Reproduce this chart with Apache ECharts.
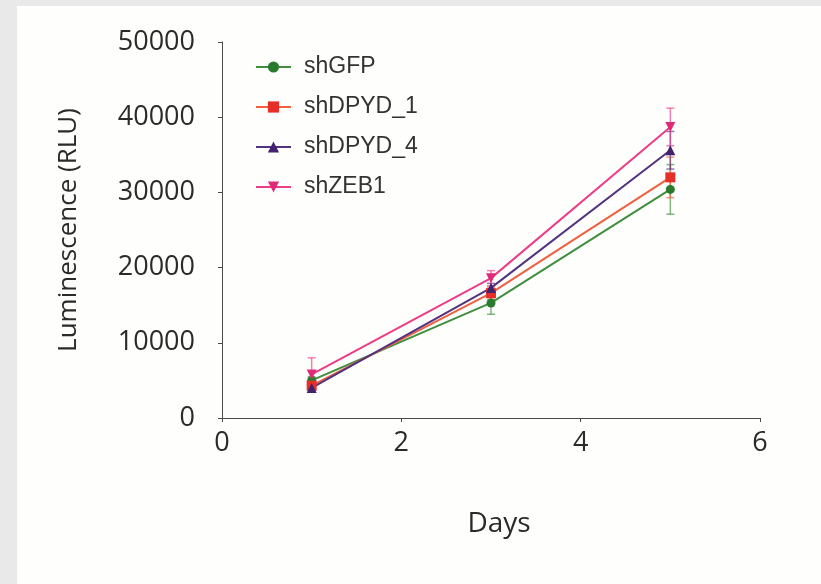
<!DOCTYPE html>
<html>
<head>
<meta charset="utf-8">
<script src="https://cdn.jsdelivr.net/npm/echarts@6/dist/echarts.min.js"></script>
<style>
  html, body { margin: 0; padding: 0; background: #e9e9e9; }
  #paper { position: absolute; left: 17px; top: 6px; width: 804px; height: 578px; background: #fefefd; }
  #chart { position: absolute; left: 0; top: 0; width: 821px; height: 584px; }
</style>
</head>
<body>
<div id="paper"></div>
<div id="chart"></div>
<script>
// days measured
const days = [1, 3, 5]
const yTicks = [0, 10000, 20000, 30000, 40000, 50000]

// mean luminescence per group
const shGFP = [5000, 15300, 30400]
const shDPYD_1 = [4300, 16600, 32000]
const shDPYD_4 = [4000, 17300, 35600]
const shZEB1 = [5800, 18600, 38700]

// error (+/-) per group
const errGFP = [500, 1500, 3300]
const errDPYD_1 = [400, 800, 2700]
const errDPYD_4 = [400, 600, 2500]
const errZEB1 = [2200, 1000, 2500]

const groups = [
  { name: 'shGFP', mean: shGFP, err: errGFP, line: '#3f8f3f', mark: '#2a7a2e', symbol: 'circle', size: 9, rot: 0 },
  { name: 'shDPYD_1', mean: shDPYD_1, err: errDPYD_1, line: '#f0603f', mark: '#e5302a', symbol: 'rect', size: 10, rot: 0 },
  { name: 'shDPYD_4', mean: shDPYD_4, err: errDPYD_4, line: '#52337f', mark: '#40226e', symbol: 'triangle', size: 10, rot: 0 },
  { name: 'shZEB1', mean: shZEB1, err: errZEB1, line: '#ec3d85', mark: '#e02a78', symbol: 'triangle', size: 10, rot: 180 }
]

const myChart = echarts.init(document.getElementById('chart'))

// error bar drawn through the axis scales
function errorBars (color) {
  return function (params, api) {
    const x = api.value(0)
    const top = api.coord([x, api.value(2)])
    const bot = api.coord([x, api.value(1)])
    const w = 4
    const style = { stroke: color, lineWidth: 1.5, opacity: 0.65 }
    return {
      type: 'group',
      children: [
        { type: 'line', shape: { x1: top[0], y1: top[1], x2: bot[0], y2: bot[1] }, style: style },
        { type: 'line', shape: { x1: top[0] - w, y1: top[1], x2: top[0] + w, y2: top[1] }, style: style },
        { type: 'line', shape: { x1: bot[0] - w, y1: bot[1], x2: bot[0] + w, y2: bot[1] }, style: style }
      ]
    }
  }
}

let series = []
groups.forEach(function (g) {
  series.push({
    name: g.name + ' err',
    type: 'custom',
    silent: true,
    z: 1,
    renderItem: errorBars(g.line),
    data: days.map(function (d, i) { return [d, g.mean[i] - g.err[i], g.mean[i] + g.err[i]] })
  })
})
groups.forEach(function (g) {
  series.push({
    name: g.name,
    type: 'line',
    z: 3,
    color: g.mark,
    symbol: g.symbol,
    symbolSize: g.size,
    symbolRotate: g.rot,
    lineStyle: { color: g.line, width: 2 },
    itemStyle: { color: g.mark },
    data: days.map(function (d, i) { return [d, g.mean[i]] })
  })
})

const axisCol = '#4a4a4a'
const option = {
  animation: false,
  legend: {
    data: groups.map(function (g) { return g.name }),
    orient: 'vertical',
    left: 250,
    top: 50,
    itemWidth: 35,
    itemHeight: 14,
    itemGap: 16,
    textStyle: { fontFamily: 'Liberation Sans', fontSize: 23, color: '#333', lineHeight: 24, padding: [0, 0, 0, 8] }
  },
  grid: { left: 222, right: 61, top: 42, bottom: 166 },
  xAxis: {
    type: 'value',
    min: 0,
    max: 6,
    interval: 2,
    name: 'Days',
    nameLocation: 'middle',
    nameGap: 92,
    nameTextStyle: { fontFamily: 'Open Sans', fontSize: 28, color: '#2a2a2a', padding: [0, 0, 0, 16] },
    splitLine: { show: false },
    axisLine: { lineStyle: { color: axisCol, width: 1 } },
    axisTick: { length: 4, lineStyle: { color: axisCol } },
    axisLabel: { margin: 12, fontFamily: 'Open Sans', fontSize: 27, color: '#2a2a2a' }
  },
  yAxis: {
    type: 'value',
    min: yTicks[0],
    max: yTicks[yTicks.length - 1],
    interval: 10000,
    name: 'Luminescence (RLU)',
    nameLocation: 'middle',
    nameGap: 140,
    nameTextStyle: { fontFamily: 'Open Sans', fontSize: 26, color: '#2a2a2a' },
    splitLine: { show: false },
    axisLine: { show: true, lineStyle: { color: axisCol, width: 1 } },
    axisTick: { length: 4, lineStyle: { color: axisCol } },
    axisLabel: {
      margin: 27,
      fontFamily: 'Open Sans',
      fontSize: 27,
      color: '#2a2a2a',
      formatter: function (v) { return String(v) }
    }
  },
  series: series
}
myChart.setOption(option, true)
</script>
</body>
</html>
